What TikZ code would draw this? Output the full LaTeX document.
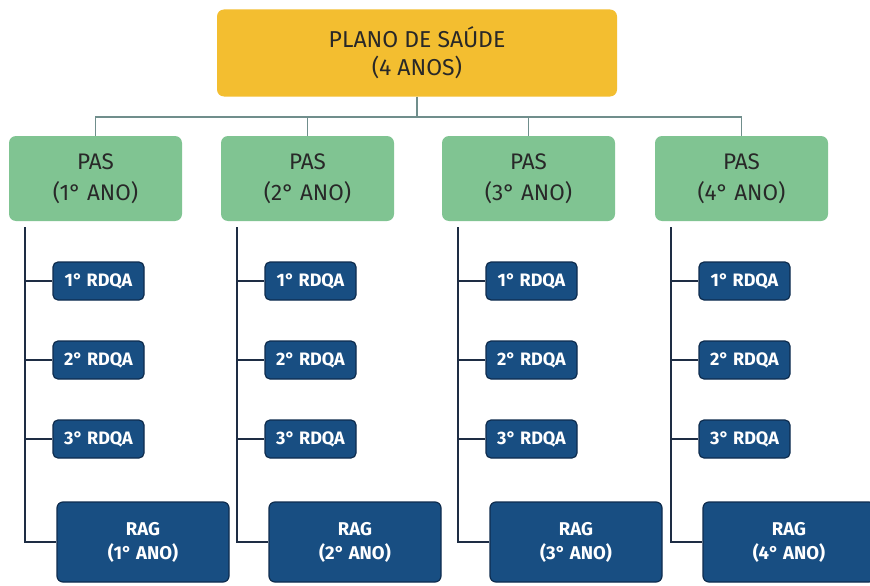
\documentclass[tikz,border=0pt]{standalone}
\usepackage{fontspec}
\setmainfont{Fira Sans}
\definecolor{yel}{RGB}{243,190,48}
\definecolor{grn}{RGB}{128,196,146}
\definecolor{blu}{RGB}{24,78,130}
\definecolor{bluedge}{RGB}{14,44,78}
\definecolor{trunk}{RGB}{30,45,68}
\definecolor{topline}{RGB}{112,142,140}
\definecolor{txt}{RGB}{40,40,40}
\tikzset{
  topbox/.style={fill=yel, rounded corners=7pt, inner sep=0pt, minimum width=400pt, minimum height=87pt, align=center, text=txt, font=\fontsize{23}{28}\selectfont},
  pasbox/.style={fill=grn, rounded corners=7pt, inner sep=0pt, minimum width=173pt, minimum height=85pt, align=center, text=txt, font=\fontsize{22.5}{31}\selectfont},
  rdqa/.style={fill=blu, draw=bluedge, line width=1.2pt, rounded corners=5pt, inner sep=0pt, minimum width=91pt, minimum height=38pt, text=white, font=\bfseries\fontsize{18}{20}\selectfont},
  ragbox/.style={fill=blu, draw=bluedge, line width=1.2pt, rounded corners=6pt, inner sep=0pt, minimum width=172pt, minimum height=80pt, align=center, text=white, font=\bfseries\fontsize{18.5}{24}\selectfont},
  tline/.style={draw=topline, line width=1.4pt},
  bline/.style={draw=trunk, line width=2pt},
}
\begin{document}
\begin{tikzpicture}[x=1pt,y=-1pt]
\useasboundingbox (0,0) rectangle (870,586);
\fill[white] (0,0) rectangle (870,586);
\node[topbox] (top) at (417,53) {PLANO DE SAÚDE\\(4 ANOS)};
\coordinate (bus) at (0,117);
\foreach \i/\L in {1/9,2/221,3/442,4/655}{
  \node[pasbox] (pas\i) at (\L+86.5,178.5) {PAS\\(\i° ANO)};
  \node[rdqa] (rd\i a) at (\L+89.5,281) {1° RDQA};
  \node[rdqa] (rd\i b) at (\L+89.5,360) {2° RDQA};
  \node[rdqa] (rd\i c) at (\L+89.5,439) {3° RDQA};
  \node[ragbox] (rag\i) at (\L+134,542) {RAG\\(\i° ANO)};
  \coordinate (t\i) at (\L+16,227);
  \draw[bline] (t\i) |- (rag\i.west);
  \draw[bline] (t\i |- rd\i a.west) -- (rd\i a.west);
  \draw[bline] (t\i |- rd\i b.west) -- (rd\i b.west);
  \draw[bline] (t\i |- rd\i c.west) -- (rd\i c.west);
}
\draw[tline] (top.south) -- (top.south |- bus);
\draw[tline] (pas1.north) |- (pas4.north |- bus) -- (pas4.north);
\draw[tline] (pas2.north) -- (pas2.north |- bus);
\draw[tline] (pas3.north) -- (pas3.north |- bus);
\end{tikzpicture}
\end{document}
